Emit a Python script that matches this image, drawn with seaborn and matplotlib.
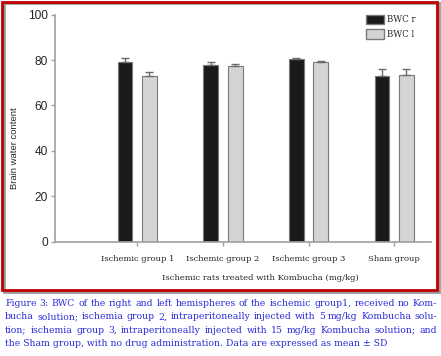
import numpy as np
import pandas as pd
import seaborn as sns
import matplotlib.pyplot as plt
from matplotlib.patches import Rectangle, Patch

# values
groups = ["Ischemic group 1", "Ischemic group 2", "Ischemic group 3", "Sham group"]
bwc_r = [79.0, 78.0, 80.3, 73.0]
bwc_l = [73.0, 77.5, 79.2, 73.3]
sd_r = [2.0, 1.3, 0.6, 2.9]
sd_l = [1.9, 0.8, 0.4, 2.9]
series = ["BWC r", "BWC l"]

caption_lines = [
    "Figure 3: BWC of the right and left hemispheres of the ischemic group1, received no Kom-",
    "bucha solution; ischemia group 2, intraperitoneally injected with 5 mg/kg Kombucha solu-",
    "tion; ischemia group 3, intraperitoneally injected with 15 mg/kg Kombucha solution; and",
    "the Sham group, with no drug administration. Data are expressed as mean \u00b1 SD",
]

df = pd.DataFrame({
    "group": groups * 2,
    "series": [series[0]] * 4 + [series[1]] * 4,
    "value": bwc_r + bwc_l,
})

sns.set_theme(style="white")
W, H = 441, 356
fig = plt.figure(figsize=(W / 100, H / 100), dpi=100)
ax = fig.add_axes([55 / W, 1 - 241.6 / H, (431 - 55) / W, (241.6 - 14.7) / H])

palette = {"BWC r": "#1a1a1a", "BWC l": "#d4d4d4"}
sns.barplot(data=df, x="group", y="value", hue="series", palette=palette,
            width=0.57, gap=0.39, edgecolor="#7a7a7a", linewidth=0.8,
            ax=ax, legend=False, errorbar=None)

# one-sided error bars on top of each bar
for cont, sds in zip(ax.containers, [sd_r, sd_l]):
    xs = [p.get_x() + p.get_width() / 2 for p in cont.patches]
    hs = [p.get_height() for p in cont.patches]
    ax.errorbar(xs, hs, yerr=[np.zeros(len(sds)), sds], fmt="none",
                ecolor="#6a6a6a", elinewidth=1.0, capsize=3, capthick=1.0)

ax.set_xlim(-0.96, 3.43)
ax.set_ylim(0, 100)
ax.set_yticks([0, 20, 40, 60, 80, 100])
for s in ["top", "right"]:
    ax.spines[s].set_visible(False)
for s in ["left", "bottom"]:
    ax.spines[s].set_color("#a0a0a0")
    ax.spines[s].set_linewidth(1.2)
ax.tick_params(axis="y", length=3, width=1, color="#a0a0a0", left=True,
               labelsize=8.6, pad=2)
ax.tick_params(axis="x", length=3, width=1, color="#a0a0a0", bottom=True,
               pad=7)
for lbl in ax.get_yticklabels():
    lbl.set_family("Liberation Sans")
for lbl in ax.get_xticklabels():
    lbl.set_family("DejaVu Serif")
    lbl.set_fontsize(6.0)

ax.set_xlabel("Ischemic rats treated with Kombucha (mg/kg)",
              family="DejaVu Serif", fontsize=6.1)
ax.xaxis.set_label_coords((260 - 55) / (431 - 55), -(274 - 241.6) / (241.6 - 14.7))
ax.set_ylabel("Brain water content", family="Liberation Sans", fontsize=6.8)
ax.yaxis.set_label_coords(-(55 - 19) / (431 - 55), (241.6 - 148) / (241.6 - 14.7))

handles = [Patch(facecolor=palette[s], edgecolor="#7a7a7a") for s in series]
ax.legend(handles, series, loc="upper left", bbox_to_anchor=((358 - 55) / 376, 1.035),
          frameon=False, prop={"family": "DejaVu Serif", "size": 6.2},
          handlelength=2.1, handleheight=1.4, labelspacing=0.55, handletextpad=0.4)

# red frame with grey shadow
fig.patches.append(Rectangle((4 / W, 1 - 292 / H), 435 / W, 289 / H,
                             transform=fig.transFigure, fill=False,
                             edgecolor="#9a9a9a", linewidth=2, zorder=0))
fig.patches.append(Rectangle((2 / W, 1 - 290 / H), 435 / W, 288 / H,
                             transform=fig.transFigure, fill=False,
                             edgecolor="#c00000", linewidth=2, zorder=1))

# justified caption
renderer = fig.canvas.get_renderer()
left_px, right_px = 5, 437
cap_kw = dict(family="DejaVu Serif", fontsize=6.7, color="#2b2bd9",
              va="baseline", transform=None)
for i, line in enumerate(caption_lines):
    y_px = H - (306 + i * 13.3)
    words = line.split(" ")
    if i < len(caption_lines) - 1:
        widths = []
        for w in words:
            t = fig.text(0, 0, w, **cap_kw)
            widths.append(t.get_window_extent(renderer).width)
            t.remove()
        space = (right_px - left_px - sum(widths)) / (len(words) - 1)
        x = left_px
        for w, wd in zip(words, widths):
            fig.text(x, y_px, w, **cap_kw)
            x += wd + space
    else:
        fig.text(left_px, y_px, line, **cap_kw)

fig.savefig("out.png", dpi=100)
